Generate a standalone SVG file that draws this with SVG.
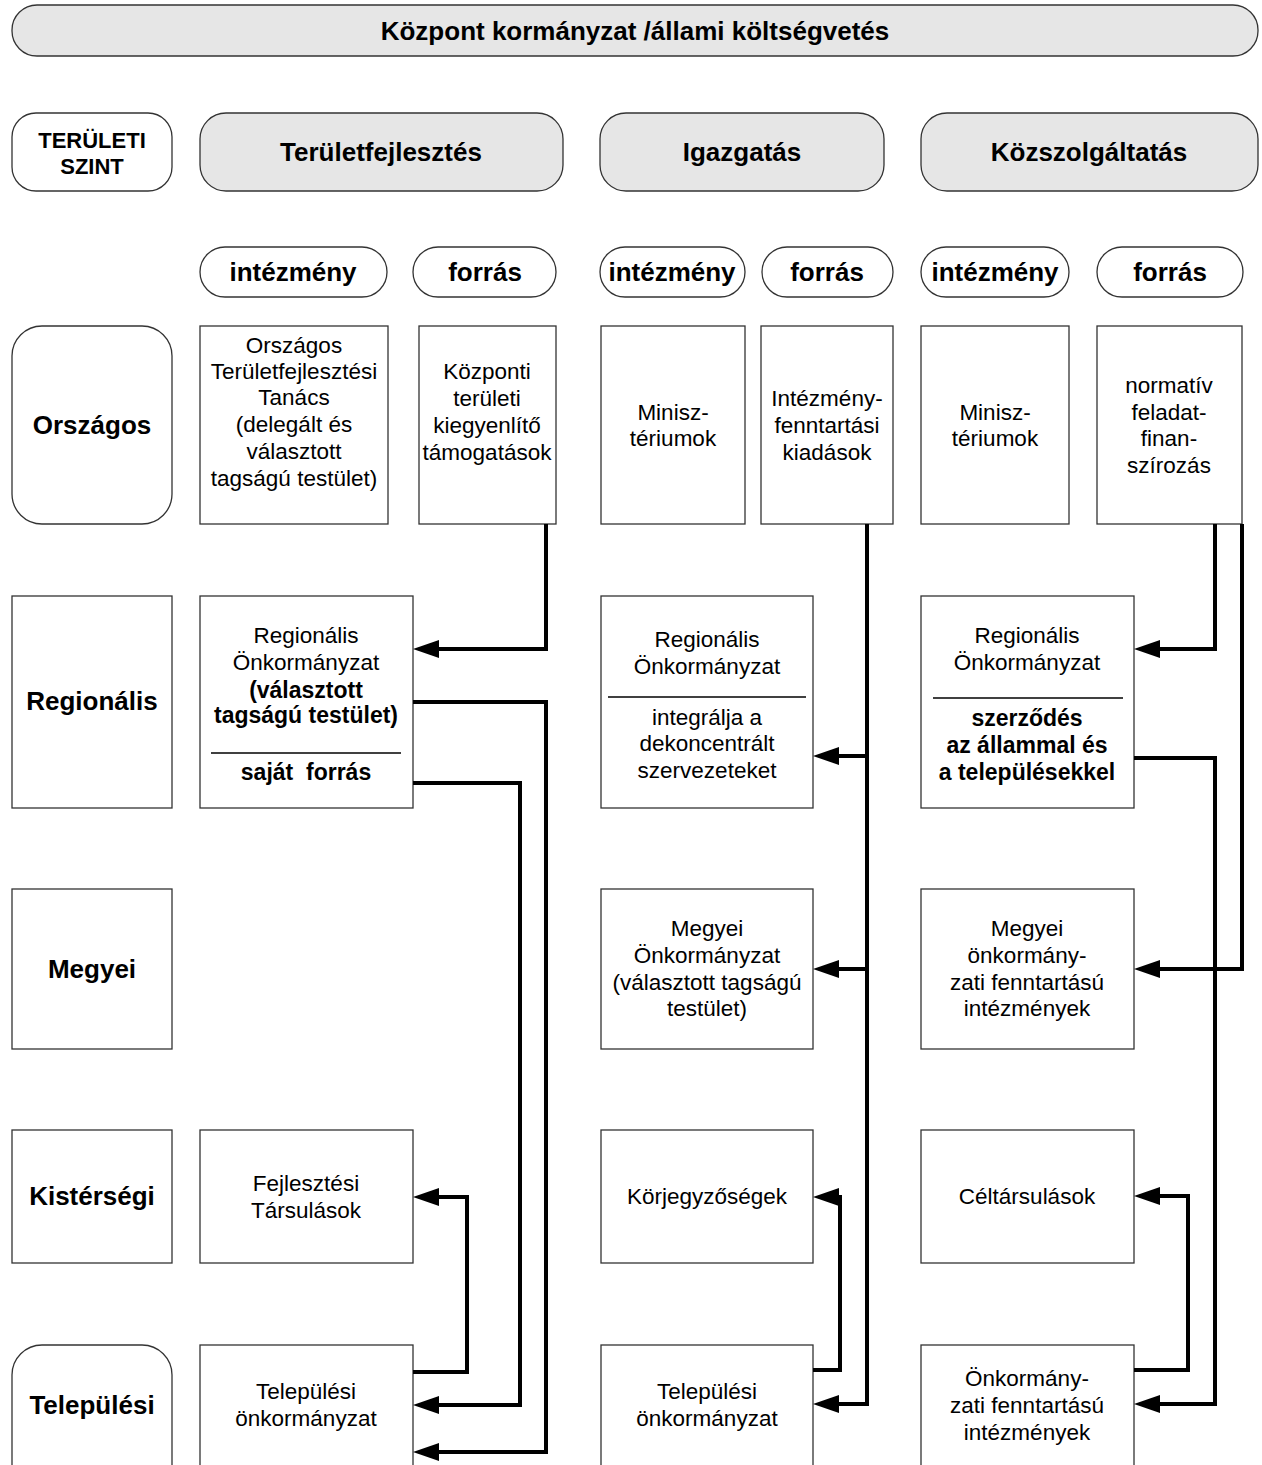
<svg xmlns="http://www.w3.org/2000/svg" width="1262" height="1465" viewBox="0 0 1262 1465">
<defs>
<style>
text{font-family:"Liberation Sans",Arial,sans-serif;fill:#000;text-anchor:middle}
.t{font-size:22.5px}
.tb{font-size:23px;font-weight:bold}
.h{font-size:26px;font-weight:bold}
.s{font-size:22px;font-weight:bold}
.box{fill:#fff;stroke:#333;stroke-width:1.3}
.grey{fill:#e6e6e6;stroke:#333;stroke-width:1.3}
.sep{stroke:#000;stroke-width:1.5}
.arr{fill:none;stroke:#000;stroke-width:4;stroke-linejoin:miter;marker-end:url(#ah)}
</style>
<marker id="ah" markerUnits="userSpaceOnUse" markerWidth="27" markerHeight="18" refX="0" refY="9" orient="auto" overflow="visible">
<path d="M0,0 L26,9 L0,18 z" fill="#000"/>
</marker>
</defs>
<rect width="1262" height="1465" fill="#fff"/>

<g id="title"><rect class="grey" x="12" y="5" width="1246" height="51" rx="25"/><text class="h" x="635" y="40">Központ kormányzat /állami költségvetés</text></g>

<g id="teruleti-szint"><rect class="box" x="12" y="113" width="160" height="78" rx="24"/><text class="s" x="92" y="148">TERÜLETI</text><text class="s" x="92" y="174">SZINT</text></g>
<g id="h-teruletfejlesztes"><rect class="grey" x="200" y="113" width="363" height="78" rx="26"/><text class="h" x="381" y="161">Területfejlesztés</text></g>
<g id="h-igazgatas"><rect class="grey" x="600" y="113" width="284" height="78" rx="26"/><text class="h" x="742" y="161">Igazgatás</text></g>
<g id="h-kozszolgaltatas"><rect class="grey" x="921" y="113" width="337" height="78" rx="26"/><text class="h" x="1089" y="161">Közszolgáltatás</text></g>

<g id="p-tf-int"><rect class="box" x="200" y="247" width="187" height="50" rx="25"/><text class="h" x="293" y="281">intézmény</text></g>
<g id="p-tf-for"><rect class="box" x="413" y="247" width="143" height="50" rx="25"/><text class="h" x="485" y="281">forrás</text></g>
<g id="p-ig-int"><rect class="box" x="600" y="247" width="145" height="50" rx="25"/><text class="h" x="672" y="281">intézmény</text></g>
<g id="p-ig-for"><rect class="box" x="762" y="247" width="131" height="50" rx="25"/><text class="h" x="827" y="281">forrás</text></g>
<g id="p-ksz-int"><rect class="box" x="921" y="247" width="148" height="50" rx="25"/><text class="h" x="995" y="281">intézmény</text></g>
<g id="p-ksz-for"><rect class="box" x="1097" y="247" width="146" height="50" rx="25"/><text class="h" x="1170" y="281">forrás</text></g>

<g id="l-orszagos"><rect class="box" x="12" y="326" width="160" height="198" rx="30"/><text class="h" x="92" y="434">Országos</text></g>
<g id="l-regionalis"><rect class="box" x="12" y="596" width="160" height="212"/><text class="h" x="92" y="710">Regionális</text></g>
<g id="l-megyei"><rect class="box" x="12" y="889" width="160" height="160"/><text class="h" x="92" y="978">Megyei</text></g>
<g id="l-kistersegi"><rect class="box" x="12" y="1130" width="160" height="133"/><text class="h" x="92" y="1205">Kistérségi</text></g>
<g id="l-telepulesi"><rect class="box" x="12" y="1345" width="160" height="160" rx="30"/><text class="h" x="92" y="1414">Települési</text></g>

<g id="n-otft"><rect class="box" x="200" y="326" width="188" height="198"/>
<text class="t" x="294" y="353">Országos</text><text class="t" x="294" y="379">Területfejlesztési</text><text class="t" x="294" y="405">Tanács</text><text class="t" x="294" y="432">(delegált és</text><text class="t" x="294" y="459">választott</text><text class="t" x="294" y="486">tagságú testület)</text></g>
<g id="n-kozponti"><rect class="box" x="419" y="326" width="137" height="198"/>
<text class="t" x="487" y="379">Központi</text><text class="t" x="487" y="406">területi</text><text class="t" x="487" y="433">kiegyenlítő</text><text class="t" x="487" y="460">támogatások</text></g>
<g id="n-min1"><rect class="box" x="601" y="326" width="144" height="198"/>
<text class="t" x="673" y="420">Minisz-</text><text class="t" x="673" y="446">tériumok</text></g>
<g id="n-intfenn"><rect class="box" x="761" y="326" width="132" height="198"/>
<text class="t" x="827" y="406">Intézmény-</text><text class="t" x="827" y="433">fenntartási</text><text class="t" x="827" y="460">kiadások</text></g>
<g id="n-min2"><rect class="box" x="921" y="326" width="148" height="198"/>
<text class="t" x="995" y="420">Minisz-</text><text class="t" x="995" y="446">tériumok</text></g>
<g id="n-normativ"><rect class="box" x="1097" y="326" width="145" height="198"/>
<text class="t" x="1169" y="393">normatív</text><text class="t" x="1169" y="420">feladat-</text><text class="t" x="1169" y="446">finan-</text><text class="t" x="1169" y="473">szírozás</text></g>

<g id="n-reg-tf"><rect class="box" x="200" y="596" width="213" height="212"/>
<text class="t" x="306" y="643">Regionális</text><text class="t" x="306" y="670">Önkormányzat</text><text class="tb" x="306" y="698">(választott</text><text class="tb" x="306" y="723">tagságú testület)</text>
<line class="sep" x1="211" y1="753" x2="401" y2="753"/><text class="tb" x="306" y="780" xml:space="preserve">saját  forrás</text></g>
<g id="n-reg-ig"><rect class="box" x="601" y="596" width="212" height="212"/>
<text class="t" x="707" y="647">Regionális</text><text class="t" x="707" y="674">Önkormányzat</text>
<line class="sep" x1="608" y1="697" x2="806" y2="697"/>
<text class="t" x="707" y="725">integrálja a</text><text class="t" x="707" y="751">dekoncentrált</text><text class="t" x="707" y="778">szervezeteket</text></g>
<g id="n-reg-ksz"><rect class="box" x="921" y="596" width="213" height="212"/>
<text class="t" x="1027" y="643">Regionális</text><text class="t" x="1027" y="670">Önkormányzat</text>
<line class="sep" x1="933" y1="698" x2="1123" y2="698"/>
<text class="tb" x="1027" y="726">szerződés</text><text class="tb" x="1027" y="753">az állammal és</text><text class="tb" x="1027" y="780">a településekkel</text></g>

<g id="n-megyei-ig"><rect class="box" x="601" y="889" width="212" height="160"/>
<text class="t" x="707" y="936">Megyei</text><text class="t" x="707" y="963">Önkormányzat</text><text class="t" x="707" y="990">(választott tagságú</text><text class="t" x="707" y="1016">testület)</text></g>
<g id="n-megyei-ksz"><rect class="box" x="921" y="889" width="213" height="160"/>
<text class="t" x="1027" y="936">Megyei</text><text class="t" x="1027" y="963">önkormány-</text><text class="t" x="1027" y="990">zati fenntartású</text><text class="t" x="1027" y="1016">intézmények</text></g>

<g id="n-fejl-tars"><rect class="box" x="200" y="1130" width="213" height="133"/>
<text class="t" x="306" y="1191">Fejlesztési</text><text class="t" x="306" y="1218">Társulások</text></g>
<g id="n-korjegyzo"><rect class="box" x="601" y="1130" width="212" height="133"/>
<text class="t" x="707" y="1204">Körjegyzőségek</text></g>
<g id="n-celtars"><rect class="box" x="921" y="1130" width="213" height="133"/>
<text class="t" x="1027" y="1204">Céltársulások</text></g>

<g id="n-tel-tf"><rect class="box" x="200" y="1345" width="213" height="160"/>
<text class="t" x="306" y="1399">Települési</text><text class="t" x="306" y="1426">önkormányzat</text></g>
<g id="n-tel-ig"><rect class="box" x="601" y="1345" width="212" height="160"/>
<text class="t" x="707" y="1399">Települési</text><text class="t" x="707" y="1426">önkormányzat</text></g>
<g id="n-tel-ksz"><rect class="box" x="921" y="1345" width="213" height="160"/>
<text class="t" x="1027" y="1386">Önkormány-</text><text class="t" x="1027" y="1413">zati fenntartású</text><text class="t" x="1027" y="1440">intézmények</text></g>

<g id="connectors">
<path class="arr" d="M546,524 V649 H439"/>
<path class="arr" d="M413,702 H546 V1452 H439"/>
<path class="arr" d="M413,783 H520 V1405 H439"/>
<path class="arr" d="M413,1372 H467 V1197 H439"/>
<path class="arr" d="M867,524 V1404 H839"/>
<path class="arr" d="M867,756 H839"/>
<path class="arr" d="M867,969 H839"/>
<path class="arr" d="M813,1370 H840 V1197 H839"/>
<path class="arr" d="M1215,524 V649 H1160"/>
<path class="arr" d="M1242,524 V969 H1160"/>
<path class="arr" d="M1134,758 H1215 V1404 H1160"/>
<path class="arr" d="M1134,1370 H1188 V1196 H1160"/>
</g>
</svg>
